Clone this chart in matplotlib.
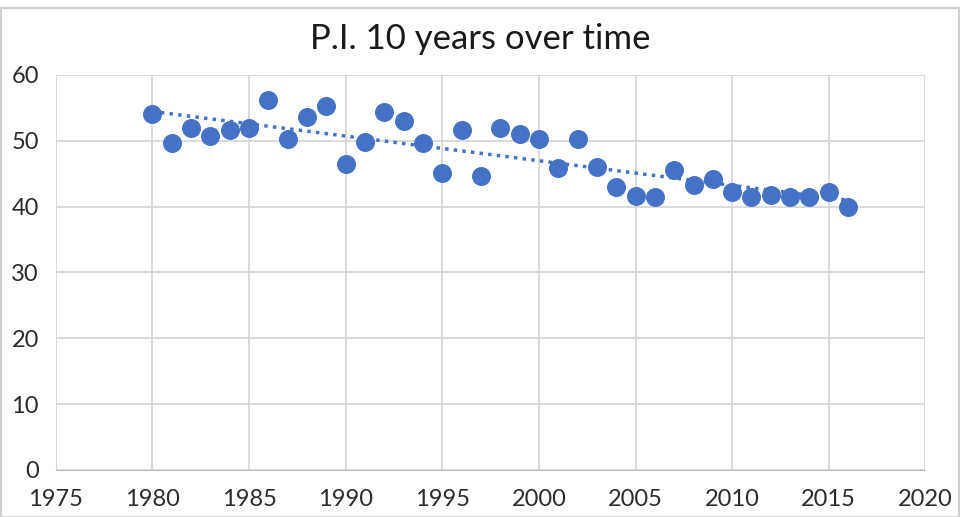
import numpy as np
import matplotlib.pyplot as plt

years = list(range(1980, 2017))
pi_values = [54.1, 49.7, 52.0, 50.8, 51.7, 52.0, 56.2, 50.2, 53.6, 55.3,
             46.4, 49.8, 54.3, 53.0, 49.7, 45.1, 51.7, 44.7, 52.0, 51.1,
             50.2, 45.9, 50.2, 46.0, 43.0, 41.6, 41.5, 45.6, 43.3, 44.2,
             42.2, 41.5, 41.8, 41.5, 41.5, 42.2, 40.0]

x_ticks = list(range(1975, 2021, 5))
y_ticks = list(range(0, 61, 10))

blue = "#4472C4"
plt.rcParams["font.family"] = ["Lato", "DejaVu Sans"]

fig = plt.figure(figsize=(9.6, 5.17), dpi=100)
ax = fig.add_axes([0.058, 0.091, 0.906, 0.764])

ax.scatter(years, pi_values, s=160, color=blue, zorder=3, edgecolors=blue)

# linear trendline
coef = np.polyfit(years, pi_values, 1)
trend_x = np.array([years[0], years[-1]])
ax.plot(trend_x, np.polyval(coef, trend_x), linestyle=(0, (1, 1.5)),
        color=blue, lw=2.5, zorder=2)

ax.set_xlim(1975, 2020)
ax.set_ylim(0, 60)
ax.set_xticks(x_ticks)
ax.set_yticks(y_ticks)
ax.grid(True, color="#d4d4d4", lw=1.2)
ax.set_axisbelow(True)
for side in ["top", "right", "left"]:
    ax.spines[side].set_visible(False)
ax.spines["bottom"].set_color("#bfbfbf")
ax.tick_params(length=0, labelsize=17, colors="#2b2b2b")
ax.tick_params(axis="x", pad=14)
ax.tick_params(axis="y", pad=12)

fig.text(0.5, 0.925, "P.I. 10 years over time", ha="center", va="center",
         fontsize=25, color="#1a1a1a")

# thin frame around the chart
fig.patches.append(plt.Rectangle((0.001, 0.0), 0.998, 0.985, transform=fig.transFigure,
                                 fill=False, edgecolor="#d0d0d0", lw=1.5))

fig.savefig("out.png", dpi=100)
